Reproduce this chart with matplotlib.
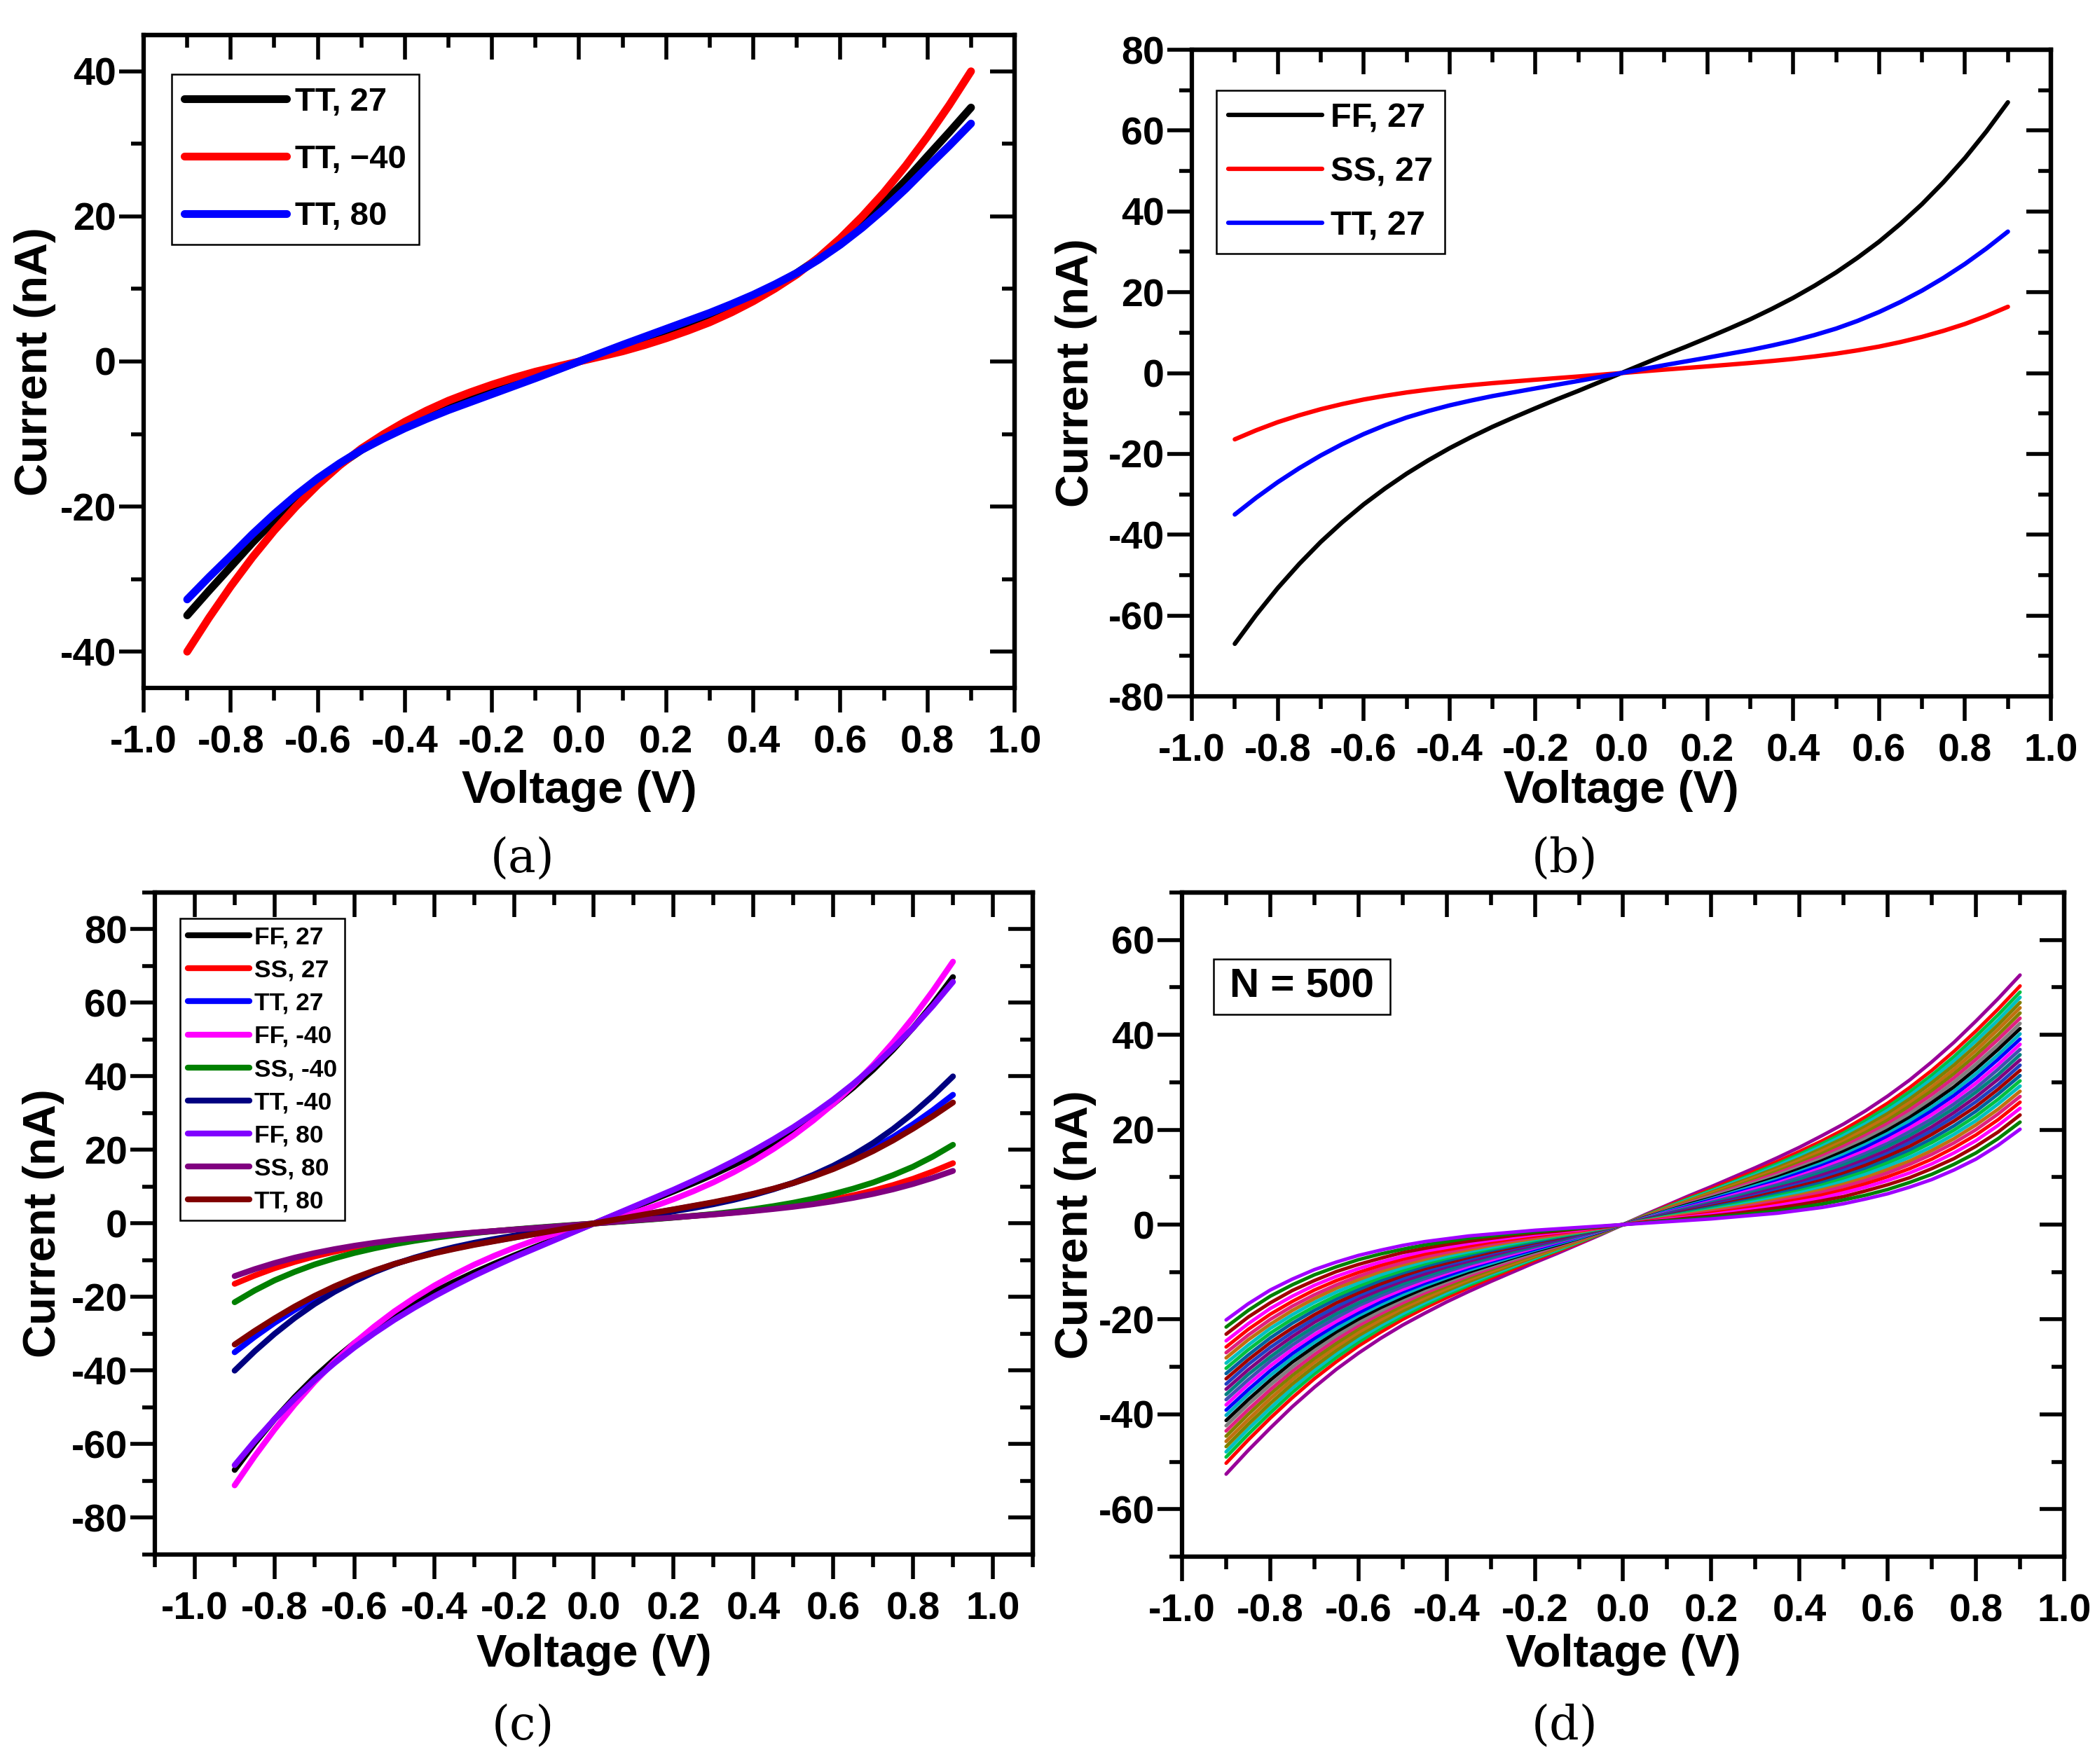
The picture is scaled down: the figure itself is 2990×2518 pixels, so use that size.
import matplotlib
matplotlib.use('Agg')
import matplotlib.pyplot as plt
from matplotlib.ticker import MultipleLocator, FuncFormatter
from matplotlib.patches import Rectangle

plt.rcParams['font.family'] = ['Liberation Sans', 'DejaVu Sans']
plt.rcParams['font.weight'] = 'bold'
plt.rcParams['axes.unicode_minus'] = False

# ---------------- data (positive half; the curves are odd-symmetric) ----------------
V_POS = [0.05, 0.1, 0.15, 0.2, 0.25, 0.3, 0.35, 0.4, 0.45,
         0.5, 0.55, 0.6, 0.65, 0.7, 0.75, 0.8, 0.85, 0.9]

# (a) TT corner at three temperatures
a_labels = ['TT, 27', 'TT, \u221240', 'TT, 80']
a_colors = ['#000000', '#ff0000', '#0000ff']
a_tt27 = [1.08, 2.1, 3.1, 4.1, 5.2, 6.3, 7.55, 8.9, 10.46, 12.2, 14.22, 16.5,
          19.06, 21.9, 24.97, 28.3, 31.6, 35.0]
a_ttm40 = [0.69, 1.4, 2.25, 3.2, 4.25, 5.4, 6.76, 8.3, 10.05, 12.0, 14.34, 17.0,
           19.99, 23.3, 26.98, 31.0, 35.34, 40.0]
a_tt80 = [1.16, 2.3, 3.4, 4.5, 5.6, 6.7, 7.91, 9.2, 10.64, 12.2, 14.04, 16.1,
          18.43, 21.0, 23.79, 26.8, 29.73, 32.8]

# (b) three corners at 27 C
b_labels = ['FF, 27', 'SS, 27', 'TT, 27']
b_colors = ['#000000', '#ff0000', '#0000ff']
b_ff27 = [2.2, 4.4, 6.5, 8.7, 10.96, 13.3, 15.86, 18.6, 21.62, 24.9, 28.54, 32.5,
          36.94, 41.8, 47.24, 53.2, 59.8, 67.0]
b_ss27 = [0.43, 0.85, 1.25, 1.65, 2.07, 2.5, 2.98, 3.5, 4.11, 4.8, 5.62, 6.55,
          7.67, 8.95, 10.45, 12.15, 14.15, 16.4]
b_tt27 = [0.98, 1.95, 2.88, 3.8, 4.75, 5.7, 6.8, 8.0, 9.41, 11.0, 12.91, 15.1,
          17.6, 20.4, 23.54, 27.0, 30.83, 35.0]

# (c) all corners and temperatures
c_labels = ['FF, 27', 'SS, 27', 'TT, 27', 'FF, -40', 'SS, -40', 'TT, -40',
            'FF, 80', 'SS, 80', 'TT, 80']
c_colors = ['#000000', '#ff0000', '#0000ff', '#ff00ff', '#008000', '#000080',
            '#8000ff', '#800080', '#800000']
c_ff27 = list(b_ff27)
c_ss27 = list(b_ss27)
c_tt27 = list(b_tt27)
c_ffm40 = [1.42, 2.9, 4.65, 6.6, 8.79, 11.2, 13.91, 16.9, 20.24, 23.9, 28.0, 32.5,
           37.55, 43.1, 49.26, 56.0, 63.31, 71.2]
c_ssm40 = [0.37, 0.75, 1.16, 1.6, 2.08, 2.6, 3.21, 3.9, 4.72, 5.65, 6.75, 8.0,
           9.47, 11.15, 13.16, 15.45, 18.22, 21.4]
c_ttm40 = [0.8, 1.6, 2.43, 3.3, 4.23, 5.25, 6.42, 7.75, 9.3, 11.1, 13.22, 15.7,
           18.58, 21.9, 25.71, 30.0, 34.76, 40.0]
c_ff80 = [2.3, 4.6, 6.9, 9.2, 11.65, 14.2, 16.92, 19.8, 22.9, 26.2, 29.81, 33.7,
          37.97, 42.6, 47.69, 53.2, 59.21, 65.7]
c_ss80 = [0.43, 0.85, 1.25, 1.65, 2.05, 2.45, 2.9, 3.4, 3.95, 4.55, 5.25, 6.05,
          6.98, 8.05, 9.3, 10.75, 12.42, 14.3]
c_tt80 = [0.98, 1.95, 2.9, 3.85, 4.82, 5.8, 6.91, 8.1, 9.47, 11.0, 12.79, 14.8,
          17.11, 19.7, 22.6, 25.8, 29.22, 32.9]

# (d) Monte-Carlo runs (representative subset of the N = 500 band)
d_curves = [
    [2.1, 4.1, 6.1, 8.0, 10.0, 12.0, 14.1, 16.3, 18.7, 21.2, 24.0, 27.1, 30.5, 34.3, 38.4, 42.9, 47.6, 52.6],
    [1.9, 3.9, 5.7, 7.5, 9.4, 11.3, 13.3, 15.4, 17.6, 20.0, 22.7, 25.6, 28.9, 32.5, 36.5, 40.8, 45.4, 50.3],
    [1.9, 3.7, 5.5, 7.2, 9.0, 10.9, 12.8, 14.8, 17.0, 19.3, 21.9, 24.8, 28.0, 31.5, 35.4, 39.7, 44.2, 49.0],
    [1.8, 3.6, 5.3, 7.0, 8.8, 10.5, 12.4, 14.4, 16.5, 18.8, 21.3, 24.1, 27.2, 30.7, 34.5, 38.7, 43.1, 47.9],
    [1.8, 3.5, 5.1, 6.8, 8.5, 10.2, 12.0, 13.9, 16.0, 18.2, 20.7, 23.4, 26.5, 29.9, 33.6, 37.7, 42.1, 46.8],
    [1.7, 3.4, 5.0, 6.6, 8.2, 9.9, 11.6, 13.5, 15.5, 17.6, 20.1, 22.7, 25.7, 29.0, 32.7, 36.7, 41.1, 45.7],
    [1.6, 3.2, 4.8, 6.3, 7.9, 9.5, 11.2, 13.0, 14.9, 17.1, 19.4, 22.0, 25.0, 28.2, 31.8, 35.7, 40.0, 44.6],
    [1.6, 3.1, 4.6, 6.1, 7.6, 9.2, 10.8, 12.6, 14.4, 16.5, 18.8, 21.3, 24.2, 27.4, 30.9, 34.8, 39.0, 43.5],
    [1.5, 3.0, 4.4, 5.9, 7.3, 8.8, 10.4, 12.1, 13.9, 15.9, 18.2, 20.6, 23.4, 26.5, 30.0, 33.8, 37.9, 42.4],
    [1.5, 2.9, 4.3, 5.6, 7.0, 8.5, 10.0, 11.7, 13.4, 15.4, 17.5, 19.9, 22.6, 25.7, 29.0, 32.8, 36.9, 41.3],
    [1.4, 2.8, 4.1, 5.4, 6.8, 8.2, 9.6, 11.2, 12.9, 14.8, 16.9, 19.2, 21.9, 24.8, 28.1, 31.8, 35.8, 40.2],
    [1.3, 2.6, 3.9, 5.2, 6.5, 7.8, 9.2, 10.8, 12.4, 14.2, 16.3, 18.6, 21.1, 24.0, 27.2, 30.8, 34.8, 39.1],
    [1.3, 2.5, 3.7, 4.9, 6.2, 7.5, 8.8, 10.3, 11.9, 13.7, 15.6, 17.9, 20.4, 23.2, 26.3, 29.8, 33.7, 38.0],
    [1.2, 2.4, 3.6, 4.7, 5.9, 7.1, 8.4, 9.9, 11.4, 13.1, 15.0, 17.1, 19.6, 22.3, 25.4, 28.8, 32.7, 36.9],
    [1.2, 2.3, 3.4, 4.5, 5.6, 6.8, 8.1, 9.4, 10.9, 12.5, 14.4, 16.5, 18.8, 21.5, 24.5, 27.9, 31.6, 35.8],
    [1.1, 2.2, 3.2, 4.3, 5.3, 6.5, 7.7, 8.9, 10.4, 11.9, 13.7, 15.7, 18.0, 20.6, 23.6, 26.9, 30.6, 34.7],
    [1.0, 2.1, 3.0, 4.0, 5.0, 6.1, 7.3, 8.5, 9.8, 11.4, 13.1, 15.0, 17.3, 19.8, 22.7, 25.9, 29.5, 33.6],
    [1.0, 1.9, 2.9, 3.8, 4.8, 5.8, 6.9, 8.1, 9.3, 10.8, 12.5, 14.4, 16.5, 19.0, 21.8, 24.9, 28.5, 32.5],
    [0.9, 1.8, 2.7, 3.6, 4.5, 5.4, 6.5, 7.6, 8.8, 10.2, 11.8, 13.7, 15.7, 18.1, 20.8, 23.9, 27.5, 31.4],
    [0.9, 1.7, 2.5, 3.3, 4.2, 5.1, 6.1, 7.1, 8.3, 9.7, 11.2, 13.0, 15.0, 17.3, 19.9, 22.9, 26.4, 30.3],
    [0.8, 1.6, 2.3, 3.1, 3.9, 4.8, 5.7, 6.7, 7.8, 9.1, 10.6, 12.3, 14.2, 16.4, 19.0, 21.9, 25.4, 29.2],
    [0.7, 1.5, 2.2, 2.9, 3.6, 4.4, 5.3, 6.2, 7.3, 8.5, 9.9, 11.6, 13.4, 15.6, 18.1, 21.0, 24.3, 28.1],
    [0.7, 1.3, 2.0, 2.6, 3.3, 4.1, 4.9, 5.8, 6.8, 8.0, 9.3, 10.9, 12.7, 14.8, 17.2, 20.0, 23.3, 27.0],
    [0.6, 1.2, 1.8, 2.4, 3.0, 3.7, 4.5, 5.3, 6.2, 7.3, 8.6, 10.1, 11.8, 13.8, 16.2, 18.9, 22.1, 25.8],
    [0.5, 1.1, 1.6, 2.1, 2.7, 3.3, 4.0, 4.8, 5.6, 6.7, 7.9, 9.3, 10.9, 12.8, 15.1, 17.7, 20.9, 24.5],
    [0.5, 0.9, 1.4, 1.8, 2.3, 2.9, 3.5, 4.2, 5.0, 5.9, 7.1, 8.4, 9.9, 11.8, 13.9, 16.5, 19.5, 23.1],
    [0.4, 0.8, 1.1, 1.5, 1.9, 2.4, 2.9, 3.6, 4.3, 5.2, 6.2, 7.4, 8.9, 10.6, 12.7, 15.1, 18.1, 21.6],
    [0.3, 0.6, 0.9, 1.2, 1.6, 2.0, 2.4, 3.0, 3.6, 4.4, 5.4, 6.5, 7.9, 9.5, 11.5, 13.8, 16.7, 20.1],
]
d_colors = ['#990099', '#ff0000', '#00c040', '#00c0c0', '#808000', '#c07010',
            '#808000', '#e0207f', '#808080', '#000000', '#00b0c0', '#0000ff',
            '#ff00ff', '#4050b0', '#008080', '#800080', '#2040c0', '#a00000',
            '#0060a0', '#00c040', '#00c0c0', '#c07010', '#e0207f', '#ff0000',
            '#ff00ff', '#a00000', '#008000', '#a000ff']
d_note = 'N = 500'


def full_v():
    return [-v for v in reversed(V_POS)] + [0.0] + list(V_POS)


def full_i(vals):
    return [-x for x in reversed(vals)] + [0.0] + list(vals)


# ---------------- styling helpers ----------------
SPINE_LW = 4.5
TICK_FS = 40
LABEL_FS = 47


def xfmt(v, p):
    if abs(v) < 1e-9:
        return '0.0'
    return '%.1f' % v


def yfmt(v, p):
    if abs(v) < 1e-9:
        return '0'
    return '%d' % round(v)


def style(ax, xlim, ylim, ymaj, ymin, ylab_x, xlab_y):
    ax.set_xlim(*xlim)
    ax.set_ylim(*ylim)
    for s in ax.spines.values():
        s.set_linewidth(SPINE_LW)
    ax.xaxis.set_major_locator(MultipleLocator(0.2))
    ax.xaxis.set_minor_locator(MultipleLocator(0.1))
    ax.yaxis.set_major_locator(MultipleLocator(ymaj))
    ax.yaxis.set_minor_locator(MultipleLocator(ymin))
    ax.xaxis.set_major_formatter(FuncFormatter(xfmt))
    ax.yaxis.set_major_formatter(FuncFormatter(yfmt))
    ax.tick_params(which='both', direction='out', top=False, right=False,
                   width=4, labelsize=TICK_FS)
    ax.tick_params(which='major', length=25)
    ax.tick_params(which='minor', length=13)
    ax.tick_params(axis='x', pad=13)
    ax.tick_params(axis='y', pad=3)
    for lab in ax.get_xticklabels() + ax.get_yticklabels():
        lab.set_fontweight('bold')
    # inward mirrored ticks on top / right
    sx = ax.secondary_xaxis('top')
    sx.xaxis.set_major_locator(MultipleLocator(0.2))
    sx.xaxis.set_minor_locator(MultipleLocator(0.1))
    sx.tick_params(which='both', direction='in', width=4, labeltop=False)
    sx.tick_params(which='major', length=25)
    sx.tick_params(which='minor', length=13)
    sx.spines['top'].set_linewidth(SPINE_LW)
    sy = ax.secondary_yaxis('right')
    sy.yaxis.set_major_locator(MultipleLocator(ymaj))
    sy.yaxis.set_minor_locator(MultipleLocator(ymin))
    sy.tick_params(which='both', direction='in', width=4, labelright=False)
    sy.tick_params(which='major', length=25)
    sy.tick_params(which='minor', length=13)
    sy.spines['right'].set_linewidth(SPINE_LW)
    ax.set_xlabel('Voltage (V)', fontsize=LABEL_FS, fontweight='bold')
    ax.set_ylabel('Current (nA)', fontsize=LABEL_FS, fontweight='bold')
    ax.xaxis.set_label_coords(0.5, xlab_y)
    ax.xaxis.label.set_verticalalignment('center')
    ax.yaxis.set_label_coords(ylab_x, 0.5)
    ax.yaxis.label.set_verticalalignment('center')
    ax.yaxis.label.set_horizontalalignment('center')


def legend(ax, x, y, fs, hl, ls, tp, bp):
    leg = ax.legend(loc='upper left', bbox_to_anchor=(x, y), borderaxespad=0,
                    handlelength=hl, handletextpad=tp,
                    labelspacing=ls, borderpad=bp, fancybox=False,
                    framealpha=1, edgecolor='black',
                    prop={'weight': 'bold', 'size': fs})
    leg.get_frame().set_linewidth(1.8)
    return leg


fig = plt.figure(figsize=(29.9, 25.18), dpi=100)
ax_a = fig.add_axes([0.06856, 0.61001, 0.41572, 0.37014])
ax_b = fig.add_axes([0.56890, 0.60524, 0.41003, 0.36656])
ax_c = fig.add_axes([0.07391, 0.11875, 0.41906, 0.37530])
ax_d = fig.add_axes([0.56421, 0.11755, 0.42107, 0.37649])

V = full_v()

# (a)
for vals, lab, col in zip([a_tt27, a_ttm40, a_tt80], a_labels, a_colors):
    ax_a.plot(V, full_i(vals), color=col, lw=8, label=lab,
              solid_capstyle='round', solid_joinstyle='round')
style(ax_a, (-1.0, 1.0), (-45, 45), 20, 10, -0.125, -0.158)
legend(ax_a, 0.032, 0.940, 34, 3.1, 0.8, 0.25, 0.38)

# (b)
for vals, lab, col in zip([b_ff27, b_ss27, b_tt27], b_labels, b_colors):
    ax_b.plot(V, full_i(vals), color=col, lw=4.5, label=lab,
              solid_capstyle='round', solid_joinstyle='round')
style(ax_b, (-1.0, 1.0), (-80, 80), 20, 10, -0.135, -0.146)
legend(ax_b, 0.0285, 0.937, 35, 2.75, 0.66, 0.25, 0.35)

# (c)
c_series = [c_ff27, c_ss27, c_tt27, c_ffm40, c_ssm40, c_ttm40, c_ff80, c_ss80, c_tt80]
for vals, lab, col in zip(c_series, c_labels, c_colors):
    ax_c.plot(V, full_i(vals), color=col, lw=6, label=lab,
              solid_capstyle='round', solid_joinstyle='round')
style(ax_c, (-1.1, 1.1), (-90, 90), 20, 10, -0.127, -0.151)
legend(ax_c, 0.0287, 0.961, 25.5, 2.5, 0.4, 0.2, 0.3)

# (d)
for vals, col in zip(d_curves, d_colors):
    ax_d.plot(V, full_i(vals), color=col, lw=3.6,
              solid_capstyle='round', solid_joinstyle='round')
style(ax_d, (-1.0, 1.0), (-70, 70), 20, 10, -0.121, -0.148)
ax_d.add_patch(Rectangle((0.0357, 0.8165), 0.2002, 0.0833, transform=ax_d.transAxes,
                         fill=False, edgecolor='black', lw=1.8, zorder=5))
ax_d.text(0.1358, 0.8582, d_note, transform=ax_d.transAxes, ha='center',
          va='center', fontsize=42, fontweight='bold', zorder=6)

# captions
for x, y, t in [(746, 1226, '(a)'), (2233, 1226, '(b)'),
                (746, 2464, '(c)'), (2233, 2464, '(d)')]:
    fig.text(x / 2990, 1 - y / 2518, t, ha='center', va='center',
             fontsize=48, fontweight='normal', family='DejaVu Serif')

fig.savefig('out.png', dpi=100, facecolor='white')
